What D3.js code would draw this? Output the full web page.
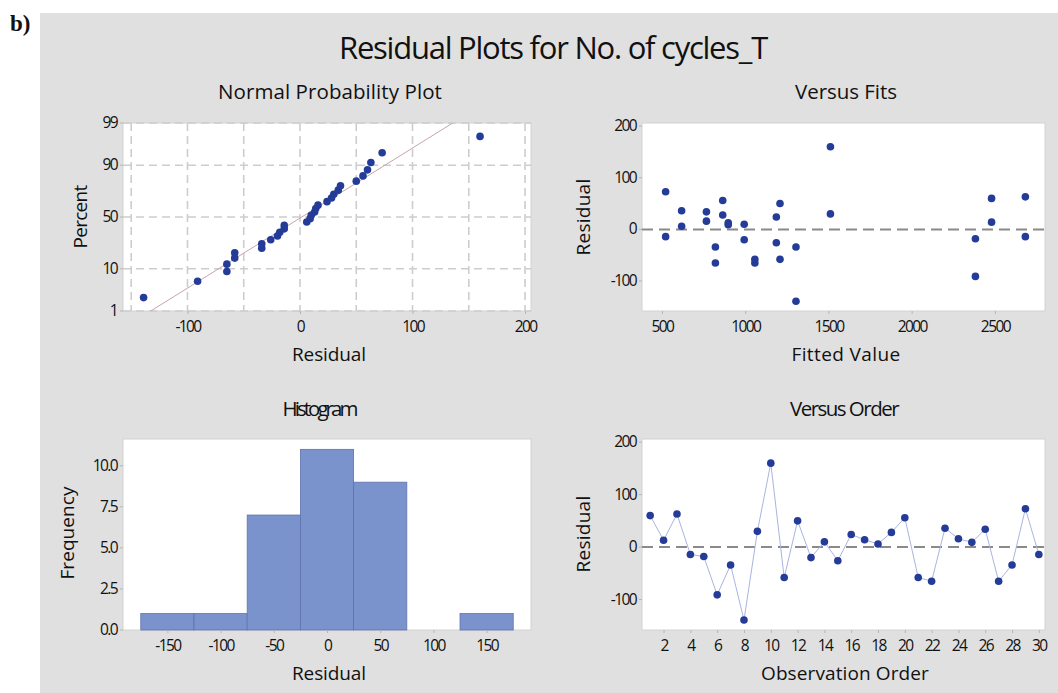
<!DOCTYPE html>
<html>
<head>
<meta charset="utf-8">
<script src="https://cdn.jsdelivr.net/npm/d3@7"></script>
<style>
  body { margin: 0; background: #fff; }
  svg text { font-family: "Open Sans", "Liberation Sans", sans-serif; fill: #111; }
</style>
</head>
<body>
<svg id="chart" width="1058" height="693"></svg>
<script>
// Residuals in observation order and the fitted value of each observation
const observation = d3.range(1, 31);
const residuals = [60, 13, 63, -14, -18, -91, -34, -139, 30, 160,
                   -58, 50, -20, 10, -26, 24, 14, 6, 28, 56,
                   -58, -65, 36, 16, 9, 34, -65, -34, 73, -14];
const fittedValues = [2480, 898, 2683, 2683, 2383, 2383, 821, 1305, 1512, 1512,
                      1058, 1209, 994, 994, 1187, 1187, 2480, 618, 865, 865,
                      1209, 821, 618, 767, 898, 767, 1058, 1305, 522, 522];

// Tick values
const percentTicks = [1, 10, 50, 90, 99];
const probResidualTicks = [-100, 0, 100, 200];
const probResidualGrid = [-150, -100, -50, 0, 50, 100, 150, 200];
const fitTicks = [500, 1000, 1500, 2000, 2500];
const residualTicks = [-100, 0, 100, 200];
const histBinEdges = [-175, -125, -75, -25, 25, 75, 125, 175];
const histTicks = [-150, -100, -50, 0, 50, 100, 150];
const freqTicks = [0, 2.5, 5, 7.5, 10];
const orderTicks = d3.range(2, 31, 2);

const C = {
  panel: "#e0e0e0",
  dot: "#243b97",
  bar: "#7b93cc",
  barEdge: "#5f72ad",
  grid: "#cdcdcd",
  frame: "#d2d2d2",
  refLine: "#8a8a8a",
  fitLine: "#c9a3a8",
  orderLine: "#a9b5df"
};

// Plain hyphen-minus number labels
const intLabel = d => String(d);
const oneDecimal = d => d.toFixed(1);

// Inverse standard normal CDF (Acklam's rational approximation)
function qnorm(p) {
  const a = [-3.969683028665376e+01, 2.209460984245205e+02, -2.759285104469687e+02,
             1.383577518672690e+02, -3.066479806614716e+01, 2.506628277459239e+00];
  const b = [-5.447609879822406e+01, 1.615858368580409e+02, -1.556989798598866e+02,
             6.680131188771972e+01, -1.328068155288572e+01];
  const c = [-7.784894002430293e-03, -3.223964580411365e-01, -2.400758277161838e+00,
             -2.549671010229793e+00, 4.374664141464968e+00, 2.938163982698783e+00];
  const d = [7.784695709041462e-03, 3.224671290700398e-01, 2.445134137142996e+00,
             3.754408661907416e+00];
  const plow = 0.02425, phigh = 1 - plow;
  let q, r;
  if (p < plow) {
    q = Math.sqrt(-2 * Math.log(p));
    return (((((c[0]*q+c[1])*q+c[2])*q+c[3])*q+c[4])*q+c[5]) /
           ((((d[0]*q+d[1])*q+d[2])*q+d[3])*q+1);
  }
  if (p > phigh) {
    q = Math.sqrt(-2 * Math.log(1 - p));
    return -(((((c[0]*q+c[1])*q+c[2])*q+c[3])*q+c[4])*q+c[5]) /
            ((((d[0]*q+d[1])*q+d[2])*q+d[3])*q+1);
  }
  q = p - 0.5; r = q * q;
  return (((((a[0]*r+a[1])*r+a[2])*r+a[3])*r+a[4])*r+a[5])*q /
         (((((b[0]*r+b[1])*r+b[2])*r+b[3])*r+b[4])*r+1);
}

// Tighten letter spacing so a label spans the given width
function fitWidth(sel, width) {
  const node = sel.node();
  const natural = node.getComputedTextLength();
  const n = node.textContent.length;
  sel.style("letter-spacing", ((width - natural) / n) + "px");
  return sel;
}

const svg = d3.select("#chart");

svg.append("rect").attr("x", 40).attr("y", 13).attr("width", 1018).attr("height", 680)
  .attr("fill", C.panel);

svg.append("text").attr("x", 10).attr("y", 31)
  .style("font-family", "'Liberation Serif', serif").style("font-weight", "bold")
  .style("font-size", "23px").text("b)");

fitWidth(svg.append("text").attr("x", 553).attr("y", 59).attr("text-anchor", "middle")
  .style("font-size", "31px").text("Residual Plots for No. of cycles_T"), 428);

// Layout of the four plot areas
const boxes = {
  prob:  { x0: 123, x1: 531,  y0: 123, y1: 311 },
  fits:  { x0: 642, x1: 1045, y0: 123, y1: 311 },
  hist:  { x0: 123, x1: 531,  y0: 439, y1: 630 },
  order: { x0: 642, x1: 1045, y0: 439, y1: 630 }
};

function frame(b) {
  svg.append("rect").attr("x", b.x0).attr("y", b.y0)
    .attr("width", b.x1 - b.x0).attr("height", b.y1 - b.y0)
    .attr("fill", "#fff").attr("stroke", C.frame).attr("stroke-width", 1);
}

function styleTicks(g) {
  g.select(".domain").remove();
  g.selectAll(".tick line").attr("stroke", "#b5b5b5");
  g.selectAll(".tick text").attr("fill", "#111")
    .style("font-size", "15.5px").style("letter-spacing", "-1.6px")
    .style("font-family", "'Open Sans', sans-serif");
}

function bottomAxis(b, scale, ticks, fmt) {
  const g = svg.append("g").attr("transform", `translate(0,${b.y1})`)
    .call(d3.axisBottom(scale).tickValues(ticks).tickSize(3).tickPadding(4).tickFormat(fmt || intLabel));
  styleTicks(g);
  g.selectAll(".tick text").attr("dy", "0.9em");
}

function leftAxis(b, scale, ticks, fmt, pos) {
  const g = svg.append("g").attr("transform", `translate(${b.x0},0)`)
    .call(d3.axisLeft(scale).tickValues(ticks).tickSize(3).tickPadding(3).tickFormat(fmt || intLabel));
  styleTicks(g);
  g.selectAll(".tick").attr("transform", d => `translate(0,${pos ? pos(d) : scale(d)})`);
}

function subtitle(text, x, y, len) {
  fitWidth(svg.append("text").attr("x", x).attr("y", y).attr("text-anchor", "middle")
    .style("font-size", "20.5px").text(text), len);
}

function xTitle(text, x, y, len) {
  fitWidth(svg.append("text").attr("x", x).attr("y", y).attr("text-anchor", "middle")
    .style("font-size", "19px").text(text), len);
}

function yTitle(text, x, y, len) {
  fitWidth(svg.append("text").attr("transform", `translate(${x},${y}) rotate(-90)`)
    .attr("text-anchor", "middle").style("font-size", "19px").text(text), len);
}

// ---------- Normal Probability Plot ----------
{
  const b = boxes.prob;
  frame(b);
  const x = d3.scaleLinear().domain([-157.3, 205.3]).range([b.x0, b.x1]);
  const zMin = qnorm(0.01), zMax = qnorm(0.99);
  const y = d3.scaleLinear().domain([zMin, zMax]).range([b.y1, b.y0]);
  const yPct = p => y(qnorm(p / 100));

  svg.append("g").selectAll("line").data(probResidualGrid).join("line")
    .attr("x1", d => x(d)).attr("x2", d => x(d)).attr("y1", b.y0).attr("y2", b.y1)
    .attr("stroke", C.grid).attr("stroke-width", 1.6).attr("stroke-dasharray", "8,5");
  svg.append("g").selectAll("line").data(percentTicks).join("line")
    .attr("x1", b.x0).attr("x2", b.x1).attr("y1", d => yPct(d)).attr("y2", d => yPct(d))
    .attr("stroke", C.grid).attr("stroke-width", 1.6).attr("stroke-dasharray", "8,5");

  const mean = d3.mean(residuals), sd = d3.deviation(residuals);
  svg.append("clipPath").attr("id", "probClip").append("rect")
    .attr("x", b.x0).attr("y", b.y0).attr("width", b.x1 - b.x0).attr("height", b.y1 - b.y0);
  svg.append("line").attr("clip-path", "url(#probClip)")
    .attr("x1", x(mean + sd * zMin)).attr("y1", y(zMin))
    .attr("x2", x(mean + sd * zMax)).attr("y2", y(zMax))
    .attr("stroke", C.fitLine).attr("stroke-width", 1);

  const sorted = residuals.slice().sort(d3.ascending);
  const n = sorted.length;
  svg.append("g").selectAll("circle").data(sorted).join("circle")
    .attr("cx", d => x(d)).attr("cy", (d, i) => y(qnorm((i + 1 - 0.3) / (n + 0.4))))
    .attr("r", 3.8).attr("fill", C.dot);

  bottomAxis(b, x, probResidualTicks);
  leftAxis(b, y, percentTicks, intLabel, d => yPct(d));
  subtitle("Normal Probability Plot", 330, 99, 224);
  xTitle("Residual", 329, 361, 74);
  yTitle("Percent", 87, 217, 63);
}

// ---------- Versus Fits ----------
{
  const b = boxes.fits;
  frame(b);
  const x = d3.scaleLinear().domain([380, 2801]).range([b.x0, b.x1]);
  const y = d3.scaleLinear().domain([-158, 206]).range([b.y1, b.y0]);
  svg.append("line").attr("x1", b.x0).attr("x2", b.x1).attr("y1", y(0)).attr("y2", y(0))
    .attr("stroke", C.refLine).attr("stroke-width", 2).attr("stroke-dasharray", "11,6");
  svg.append("g").selectAll("circle").data(observation).join("circle")
    .attr("cx", i => x(fittedValues[i - 1])).attr("cy", i => y(residuals[i - 1]))
    .attr("r", 3.8).attr("fill", C.dot);
  bottomAxis(b, x, fitTicks);
  leftAxis(b, y, residualTicks);
  subtitle("Versus Fits", 846, 99, 102);
  xTitle("Fitted Value", 846, 361, 109);
  yTitle("Residual", 590, 217, 77);
}

// ---------- Histogram ----------
{
  const b = boxes.hist;
  frame(b);
  const x = d3.scaleLinear().domain([-191.7, 191.7]).range([b.x0, b.x1]);
  const y = d3.scaleLinear().domain([0, 11.63]).range([b.y1, b.y0]);
  const bins = d3.bin().domain([histBinEdges[0], histBinEdges[histBinEdges.length - 1]])
    .thresholds(histBinEdges.slice(1, -1))(residuals);
  svg.append("g").selectAll("rect").data(bins.filter(d => d.length > 0)).join("rect")
    .attr("x", d => x(d.x0)).attr("width", d => x(d.x1) - x(d.x0))
    .attr("y", d => y(d.length)).attr("height", d => y(0) - y(d.length))
    .attr("fill", C.bar).attr("stroke", C.barEdge).attr("stroke-width", 0.8);
  bottomAxis(b, x, histTicks);
  leftAxis(b, y, freqTicks, oneDecimal);
  subtitle("Histogram", 319, 416, 73);
  xTitle("Residual", 329, 680, 74);
  yTitle("Frequency", 74, 533, 93);
}

// ---------- Versus Order ----------
{
  const b = boxes.order;
  frame(b);
  const x = d3.scaleLinear().domain([0.39, 30.46]).range([b.x0, b.x1]);
  const y = d3.scaleLinear().domain([-158, 206]).range([b.y1, b.y0]);
  svg.append("line").attr("x1", b.x0).attr("x2", b.x1).attr("y1", y(0)).attr("y2", y(0))
    .attr("stroke", C.refLine).attr("stroke-width", 2).attr("stroke-dasharray", "11,6");
  svg.append("path").datum(observation)
    .attr("d", d3.line().x(i => x(i)).y(i => y(residuals[i - 1])))
    .attr("fill", "none").attr("stroke", C.orderLine).attr("stroke-width", 1);
  svg.append("g").selectAll("circle").data(observation).join("circle")
    .attr("cx", i => x(i)).attr("cy", i => y(residuals[i - 1]))
    .attr("r", 3.8).attr("fill", C.dot);
  bottomAxis(b, x, orderTicks);
  leftAxis(b, y, residualTicks);
  subtitle("Versus Order", 844, 416, 108);
  xTitle("Observation Order", 845, 680, 168);
  yTitle("Residual", 590, 534, 77);
}
</script>
</body>
</html>
